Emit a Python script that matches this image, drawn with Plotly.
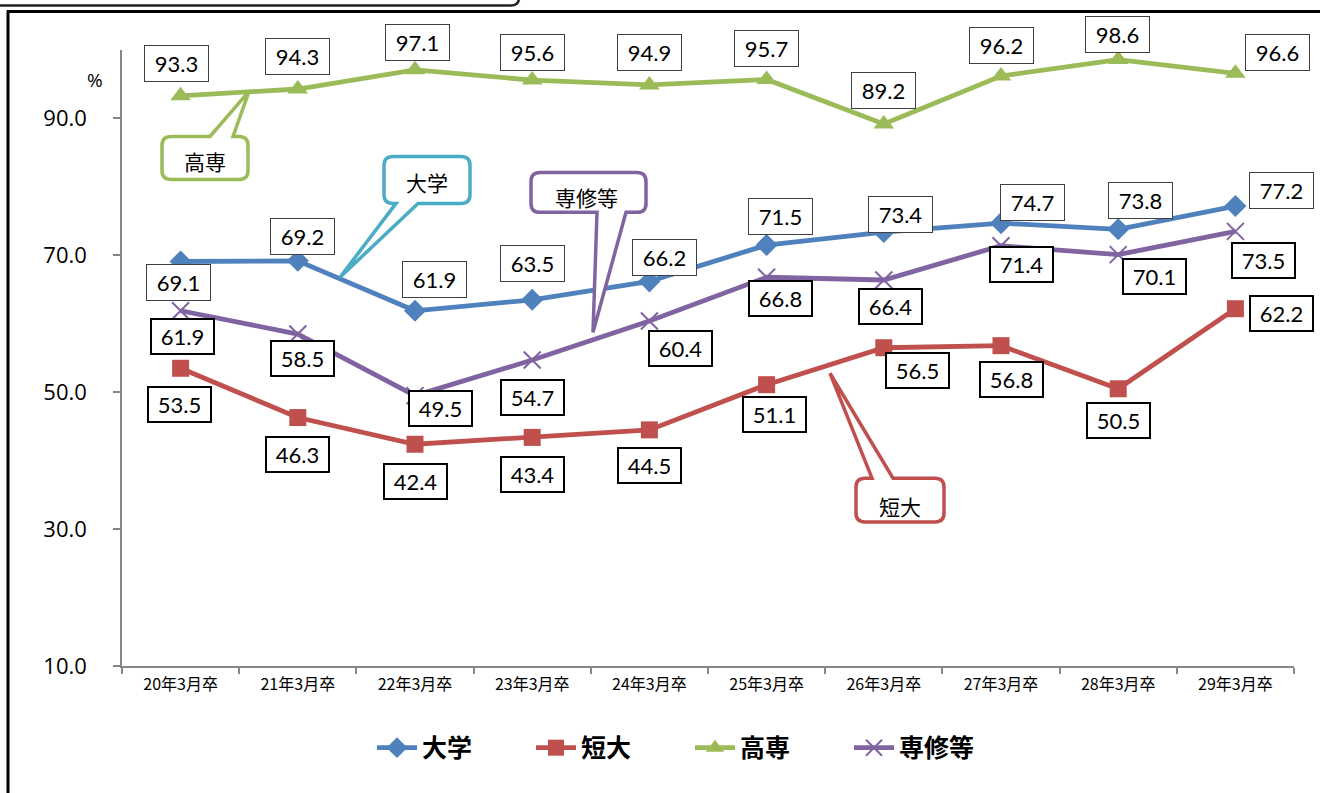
import plotly.graph_objects as go

# ---------------- data ----------------
categories = ["20年3月卒", "21年3月卒", "22年3月卒", "23年3月卒", "24年3月卒",
              "25年3月卒", "26年3月卒", "27年3月卒", "28年3月卒", "29年3月卒"]
daigaku = [69.1, 69.2, 61.9, 63.5, 66.2, 71.5, 73.4, 74.7, 73.8, 77.2]
tandai = [53.5, 46.3, 42.4, 43.4, 44.5, 51.1, 56.5, 56.8, 50.5, 62.2]
kosen = [93.3, 94.3, 97.1, 95.6, 94.9, 95.7, 89.2, 96.2, 98.6, 96.6]
senshu = [61.9, 58.5, 49.5, 54.7, 60.4, 66.8, 66.4, 71.4, 70.1, 73.5]
series_names = ["大学", "短大", "高専", "専修等"]
y_ticks = [10, 30, 50, 70, 90]

# ---------------- styles ----------------
colors = ["#4F81BD", "#C0504D", "#9BBB59", "#8064A2"]
symbols = ["diamond", "square", "triangle-up", "x-thin-open"]
msizes = [17, 17, 18, 17]

# label offsets in px (dx right, dy down)
offsets = [
    [(-2, 21), (5, -24), (19, -31), (0, -36), (15, -24), (14, -29), (17, -18), (31, -21), (22, -29), (46, -16)],
    [(-1, 36), (0, 37), (0, 37), (0, 37), (0, 36), (8, 30), (34, 23), (10, 34), (0, 32), (46, 5)],
    [(-4, -32), (0, -33), (2, -27), (0, -28), (0, -32), (0, -31), (0, -33), (0, -31), (-1, -25), (42, -21)],
    [(2, 26), (5, 24), (25, 13), (0, 37), (31, 27), (14, 21), (7, 27), (20, 19), (36, 22), (28, 29)],
]
thick = [False, True, False, True]

W, H = 1320, 793
L, R, T, B = 122, 1294, 49.5, 666


def pxx(x):
    return (x - L) / (R - L)


def pyy(y):
    return (B - y) / (B - T)


fig = go.Figure()
all_series = [daigaku, tandai, kosen, senshu]
for name, vals, c, s, ms in zip(series_names, all_series, colors, symbols, msizes):
    marker = dict(symbol=s, size=ms, color=c)
    if s.startswith("x-thin"):
        marker["line"] = dict(color=c, width=2)
    fig.add_trace(go.Scatter(
        x=categories, y=vals, name=name, mode="lines+markers",
        line=dict(color=c, width=4.8), marker=marker,
    ))

annotations = []
for vals, offs, th in zip(all_series, offsets, thick):
    for cat, v, (dx, dy) in zip(categories, vals, offs):
        annotations.append(dict(
            x=cat, y=v, xref="x", yref="y", text=f"{v:.1f}", showarrow=False,
            xshift=dx, yshift=-dy,
            font=dict(family="Lato", size=22, color="#000000"),
            bgcolor="#FFFFFF",
            bordercolor="#000000" if th else "#3F3F3F",
            borderwidth=2 if th else 1,
            borderpad=3,
            width=55 if th else 57, height=27 if th else 29,
        ))

# "%" label
annotations.append(dict(x=pxx(95), y=pyy(80), xref="paper", yref="paper", text="%",
                        xanchor="center", yanchor="middle",
                        showarrow=False, font=dict(family="Open Sans", size=19, color="#000")))


def callout(x0, y0, x1, y1, r, side, b1, b2, tip):
    if side == "top":
        seq = [("M", x0 + r, y0), ("L", b1, y0), ("L", tip[0], tip[1]), ("L", b2, y0),
               ("L", x1 - r, y0), ("Q", x1, y0, x1, y0 + r), ("L", x1, y1 - r),
               ("Q", x1, y1, x1 - r, y1), ("L", x0 + r, y1), ("Q", x0, y1, x0, y1 - r),
               ("L", x0, y0 + r), ("Q", x0, y0, x0 + r, y0)]
    else:
        seq = [("M", x0 + r, y0), ("L", x1 - r, y0), ("Q", x1, y0, x1, y0 + r),
               ("L", x1, y1 - r), ("Q", x1, y1, x1 - r, y1), ("L", b2, y1),
               ("L", tip[0], tip[1]), ("L", b1, y1), ("L", x0 + r, y1),
               ("Q", x0, y1, x0, y1 - r), ("L", x0, y0 + r), ("Q", x0, y0, x0 + r, y0)]
    out = []
    for item in seq:
        cmd = item[0]
        coords = item[1:]
        parts = []
        for i in range(0, len(coords), 2):
            parts.append(f"{pxx(coords[i]):.5f},{pyy(coords[i + 1]):.5f}")
        out.append(cmd + " ".join(parts))
    return " ".join(out) + " Z"


callouts = [
    ("高専", "#9BBB59", (162, 136, 248, 179), "top", 210, 233, (249, 91), (205, 161)),
    ("大学", "#4BACC6", (384, 156, 470, 203), "bottom", 396, 418, (340, 277), (427, 182)),
    ("専修等", "#8064A2", (531, 172, 646, 212), "bottom", 597, 626, (593, 332), (586, 197)),
    ("短大", "#C0504D", (856, 478, 944, 522), "top", 872, 893, (830, 373), (900, 506)),
]
shapes = []
for text, col, (x0, y0, x1, y1), side, b1, b2, tip, tc in callouts:
    shapes.append(dict(type="path", xref="paper", yref="paper", layer="above",
                       path=callout(x0, y0, x1, y1, 9, side, b1, b2, tip),
                       line=dict(color=col, width=3.5), fillcolor="#FFFFFF"))
    annotations.append(dict(x=pxx(tc[0]), y=pyy(tc[1]), xref="paper", yref="paper",
                            text=text, showarrow=False, xanchor="center", yanchor="middle",
                            font=dict(family="Noto Sans CJK JP", size=21, color="#000")))

# outer frame
shapes.append(dict(type="line", xref="paper", yref="paper", x0=pxx(8), x1=pxx(8),
                   y0=pyy(10), y1=pyy(820), line=dict(color="#000", width=3)))
shapes.append(dict(type="line", xref="paper", yref="paper", x0=pxx(7), x1=pxx(1340),
                   y0=pyy(11), y1=pyy(11), line=dict(color="#000", width=3)))
# partly visible title box
shapes.append(dict(type="path", xref="paper", yref="paper",
                   path=(f"M{pxx(-10):.5f},{pyy(5):.5f} L{pxx(511):.5f},{pyy(5):.5f} "
                         f"Q{pxx(519):.5f},{pyy(5):.5f} {pxx(519):.5f},{pyy(-3):.5f} "
                         f"L{pxx(519):.5f},{pyy(-20):.5f}"),
                   line=dict(color="#222", width=2.5)))

fig.update_layout(
    width=W, height=H,
    margin=dict(l=L, r=W - R, t=T, b=H - B, autoexpand=False),
    paper_bgcolor="#FFFFFF", plot_bgcolor="#FFFFFF",
    showlegend=True,
    legend=dict(orientation="h", x=pxx(690), y=pyy(748), xanchor="center", yanchor="middle",
                font=dict(family="Noto Sans CJK JP", size=25, color="#000", weight="bold"),
                entrywidth=104, itemwidth=40, bgcolor="rgba(0,0,0,0)"),
    annotations=annotations,
    shapes=shapes,
    xaxis=dict(type="category", range=[-0.5, 9.5], showgrid=False, zeroline=False,
               showline=True, linecolor="#868686", linewidth=1.5,
               ticks="outside", tickson="boundaries", ticklen=6, tickcolor="#868686", tickwidth=1.5,
               tickfont=dict(family="Noto Sans CJK JP", size=16, color="#000"),
               ticklabelstandoff=3),
    yaxis=dict(range=[10, 100], tickvals=y_ticks, tickformat=".1f", showgrid=False, zeroline=False,
               showline=True, linecolor="#868686", linewidth=1.5,
               ticks="outside", ticklen=7, tickcolor="#868686", tickwidth=1.5,
               tickfont=dict(family="Open Sans", size=22, color="#000"),
               ticklabelstandoff=22),
)

fig.write_html("out.html", config={"displayModeBar": False},
               post_script="document.body.style.margin='0px';document.body.style.padding='0px';")
